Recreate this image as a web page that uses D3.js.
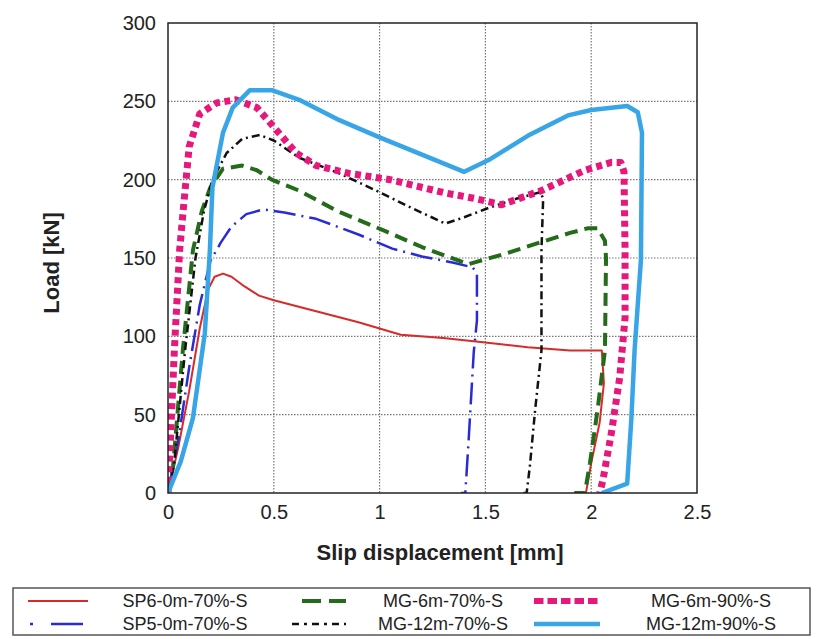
<!DOCTYPE html>
<html>
<head>
<meta charset="utf-8">
<script src="https://cdn.jsdelivr.net/npm/d3@7"></script>
<style>
  body { margin: 0; background: #fff; }
  text { font-family: "Liberation Sans", Arial, sans-serif; fill: #222; }
</style>
</head>
<body>
<svg id="chart" width="817" height="639"></svg>
<script>
// load-slip curves, [slip mm, load kN]
const sp6_0m_70 = [[0,0],[0.05,30],[0.1,65],[0.15,105],[0.19,130],[0.22,138],[0.26,140],[0.3,138],[0.36,132],[0.43,126],[0.5,123],[0.7,116],[0.9,109],[1.0,105],[1.1,101],[1.3,99],[1.5,96],[1.7,93],[1.9,91],[2.05,91],[2.06,70],[2.04,45],[2.0,19],[1.975,0]]
const sp5_0m_70 = [[0,0],[0.05,35],[0.1,80],[0.15,120],[0.2,148],[0.25,160],[0.3,170],[0.37,178],[0.45,181],[0.55,179],[0.7,175],[0.9,165],[1.06,156],[1.2,151],[1.35,147],[1.44,144],[1.46,140],[1.46,110],[1.445,90],[1.42,32],[1.405,0],[1.385,0]]
const mg_6m_70 = [[0,0],[0.024,17],[0.07,91],[0.118,155],[0.16,180],[0.2,195],[0.26,207],[0.35,209],[0.42,206],[0.49,200],[0.62,193],[0.8,180],[1.03,167],[1.2,157],[1.42,146],[1.47,148],[1.6,153],[1.76,160],[1.9,166],[1.985,169],[2.03,169],[2.065,161],[2.07,150],[2.065,91],[2.03,53],[1.994,19],[1.97,0],[1.92,0]]
const mg_12m_70 = [[0,0],[0.03,20],[0.08,90],[0.13,150],[0.17,180],[0.21,200],[0.277,217],[0.35,226],[0.433,228.5],[0.5,225],[0.62,214],[0.81,204],[1.0,192],[1.15,182],[1.31,172],[1.4,176],[1.515,182],[1.65,188],[1.76,192],[1.773,188],[1.765,155],[1.765,91],[1.735,53],[1.71,17],[1.695,0],[1.68,0]]
const mg_6m_90 = [[0,0],[0.01,30],[0.03,91],[0.055,155],[0.075,185],[0.1,221],[0.15,242],[0.23,249],[0.32,251],[0.42,246],[0.51,232],[0.606,217],[0.7,209],[0.856,204],[1.05,200],[1.31,191.5],[1.45,188],[1.576,184],[1.765,193],[1.97,206],[2.095,211],[2.14,211],[2.155,205],[2.16,155],[2.16,112],[2.135,74],[2.095,38],[2.055,8],[2.04,0]]
const mg_12m_90 = [[0,0],[0.06,20],[0.118,48],[0.174,102],[0.198,155],[0.21,195],[0.26,230],[0.306,246],[0.386,257],[0.494,257],[0.62,251],[0.81,238],[1.0,227],[1.2,216],[1.4,205],[1.515,212.5],[1.7,228],[1.89,241],[2.0,244.5],[2.17,247],[2.22,243],[2.24,230],[2.235,149],[2.205,91],[2.19,48],[2.17,6],[2.05,0]]

const seriesNames = ['SP6-0m-70%-S', 'SP5-0m-70%-S', 'MG-6m-70%-S', 'MG-12m-70%-S', 'MG-6m-90%-S', 'MG-12m-90%-S']
const seriesData = [sp6_0m_70, sp5_0m_70, mg_6m_70, mg_12m_70, mg_6m_90, mg_12m_90]
const xTicks = [0, 0.5, 1, 1.5, 2, 2.5]
const yTicks = [0, 50, 100, 150, 200, 250, 300]

const styles = [
  {color: '#d82a2a', width: 2, dash: null},
  {color: '#2b2bd6', width: 2.5, dash: '22,6,2,6'},
  {color: '#246b1c', width: 4, dash: '13,7'},
  {color: '#111', width: 2.5, dash: '8,4,2,4'},
  {color: '#e6187c', width: 7, dash: '6,4.5'},
  {color: '#38a5e6', width: 4.5, dash: null}
]

const margin = {top: 23, right: 120, bottom: 146, left: 168}
const width = 697 - margin.left
const height = 493 - margin.top

const svg = d3.select('#chart')
const g = svg.append('g').attr('transform', 'translate(' + margin.left + ',' + margin.top + ')')

const xScale = d3.scaleLinear().domain([0, 2.5]).range([0, width])
const yScale = d3.scaleLinear().domain([0, 300]).range([height, 0])

// dotted grid
g.append('g')
  .selectAll('line')
  .data(xTicks.slice(1, -1))
  .enter()
  .append('line')
  .attr('x1', d => xScale(d)).attr('x2', d => xScale(d))
  .attr('y1', 0).attr('y2', height)
  .attr('stroke', '#777').attr('stroke-width', 1.2).attr('stroke-dasharray', '1.5,1.5')

g.append('g')
  .selectAll('line')
  .data(yTicks.slice(1, -1))
  .enter()
  .append('line')
  .attr('y1', d => yScale(d)).attr('y2', d => yScale(d))
  .attr('x1', 0).attr('x2', width)
  .attr('stroke', '#777').attr('stroke-width', 1.2).attr('stroke-dasharray', '1.5,1.5')

// axes
const xAxis = d3.axisBottom(xScale).tickValues(xTicks).tickFormat(d3.format('')).tickSize(0).tickPadding(12)
const xG = g.append('g').attr('transform', 'translate(0,' + height + ')').call(xAxis)
xG.select('.domain').remove()
xG.selectAll('text').style('font-size', '20px').attr('fill', '#222')

const yAxis = d3.axisLeft(yScale).tickValues(yTicks).tickSize(0).tickPadding(12)
const yG = g.append('g').call(yAxis)
yG.select('.domain').remove()
yG.selectAll('text').style('font-size', '20px').attr('fill', '#222')

// curves
const line = d3.line().x(d => xScale(d[0])).y(d => yScale(d[1]))
const clip = g.append('clipPath').attr('id', 'plotclip')
clip.append('rect').attr('x', 0).attr('y', -5).attr('width', width).attr('height', height + 5)

g.append('g')
  .attr('clip-path', 'url(#plotclip)')
  .selectAll('path')
  .data(seriesData)
  .enter()
  .append('path')
  .attr('d', d => line(d))
  .attr('fill', 'none')
  .attr('stroke', (d, i) => styles[i].color)
  .attr('stroke-width', (d, i) => styles[i].width)
  .attr('stroke-dasharray', (d, i) => styles[i].dash)
  .attr('stroke-linejoin', 'round')

// frame
g.append('rect')
  .attr('width', width).attr('height', height)
  .attr('fill', 'none').attr('stroke', '#222').attr('stroke-width', 1.5)

// axis titles
svg.append('text')
  .attr('x', 440).attr('y', 560)
  .attr('text-anchor', 'middle')
  .style('font-size', '22px').style('font-weight', 'bold').attr('fill', '#111')
  .text('Slip displacement [mm]')

svg.append('text')
  .attr('transform', 'translate(59,263) rotate(-90)')
  .attr('text-anchor', 'middle')
  .style('font-size', '22px').style('font-weight', 'bold').attr('fill', '#111')
  .text('Load [kN]')

// legend
const legend = svg.append('g')
legend.append('rect')
  .attr('x', 13).attr('y', 588).attr('width', 797).attr('height', 47)
  .attr('fill', '#fff').attr('stroke', '#555').attr('stroke-width', 1.5)

const legendCols = [
  {x1: 28, x2: 88, tx: 185},
  {x1: 292, x2: 346, tx: 443},
  {x1: 534, x2: 600, tx: 711}
]
const legendRows = [601, 624]
// legend order: column-major, as in the reference
const legendOrder = [0, 2, 4, 1, 3, 5]

legendOrder.forEach((si, k) => {
  const col = legendCols[k % 3]
  const row = legendRows[Math.floor(k / 3)]
  const s = styles[si]
  let x1 = col.x1
  let dash = s.dash
  if (si === 1) { dash = '3,18,32,10' ; x1 = 30 }
  if (si === 2) { x1 = 302; dash = '19,8' }
  if (si === 3) { x1 = 292; dash = '7,5,3,5' }
  if (si === 4) { dash = '9.5,4' }
  legend.append('line')
    .attr('x1', x1).attr('x2', col.x2)
    .attr('y1', row).attr('y2', row)
    .attr('stroke', s.color)
    .attr('stroke-width', Math.min(s.width, 6))
    .attr('stroke-dasharray', dash)
  legend.append('text')
    .attr('x', col.tx).attr('y', row + 6)
    .attr('text-anchor', 'middle')
    .style('font-size', '18px')
    .attr('fill', '#222')
    .text(seriesNames[si])
})
</script>
</body>
</html>
